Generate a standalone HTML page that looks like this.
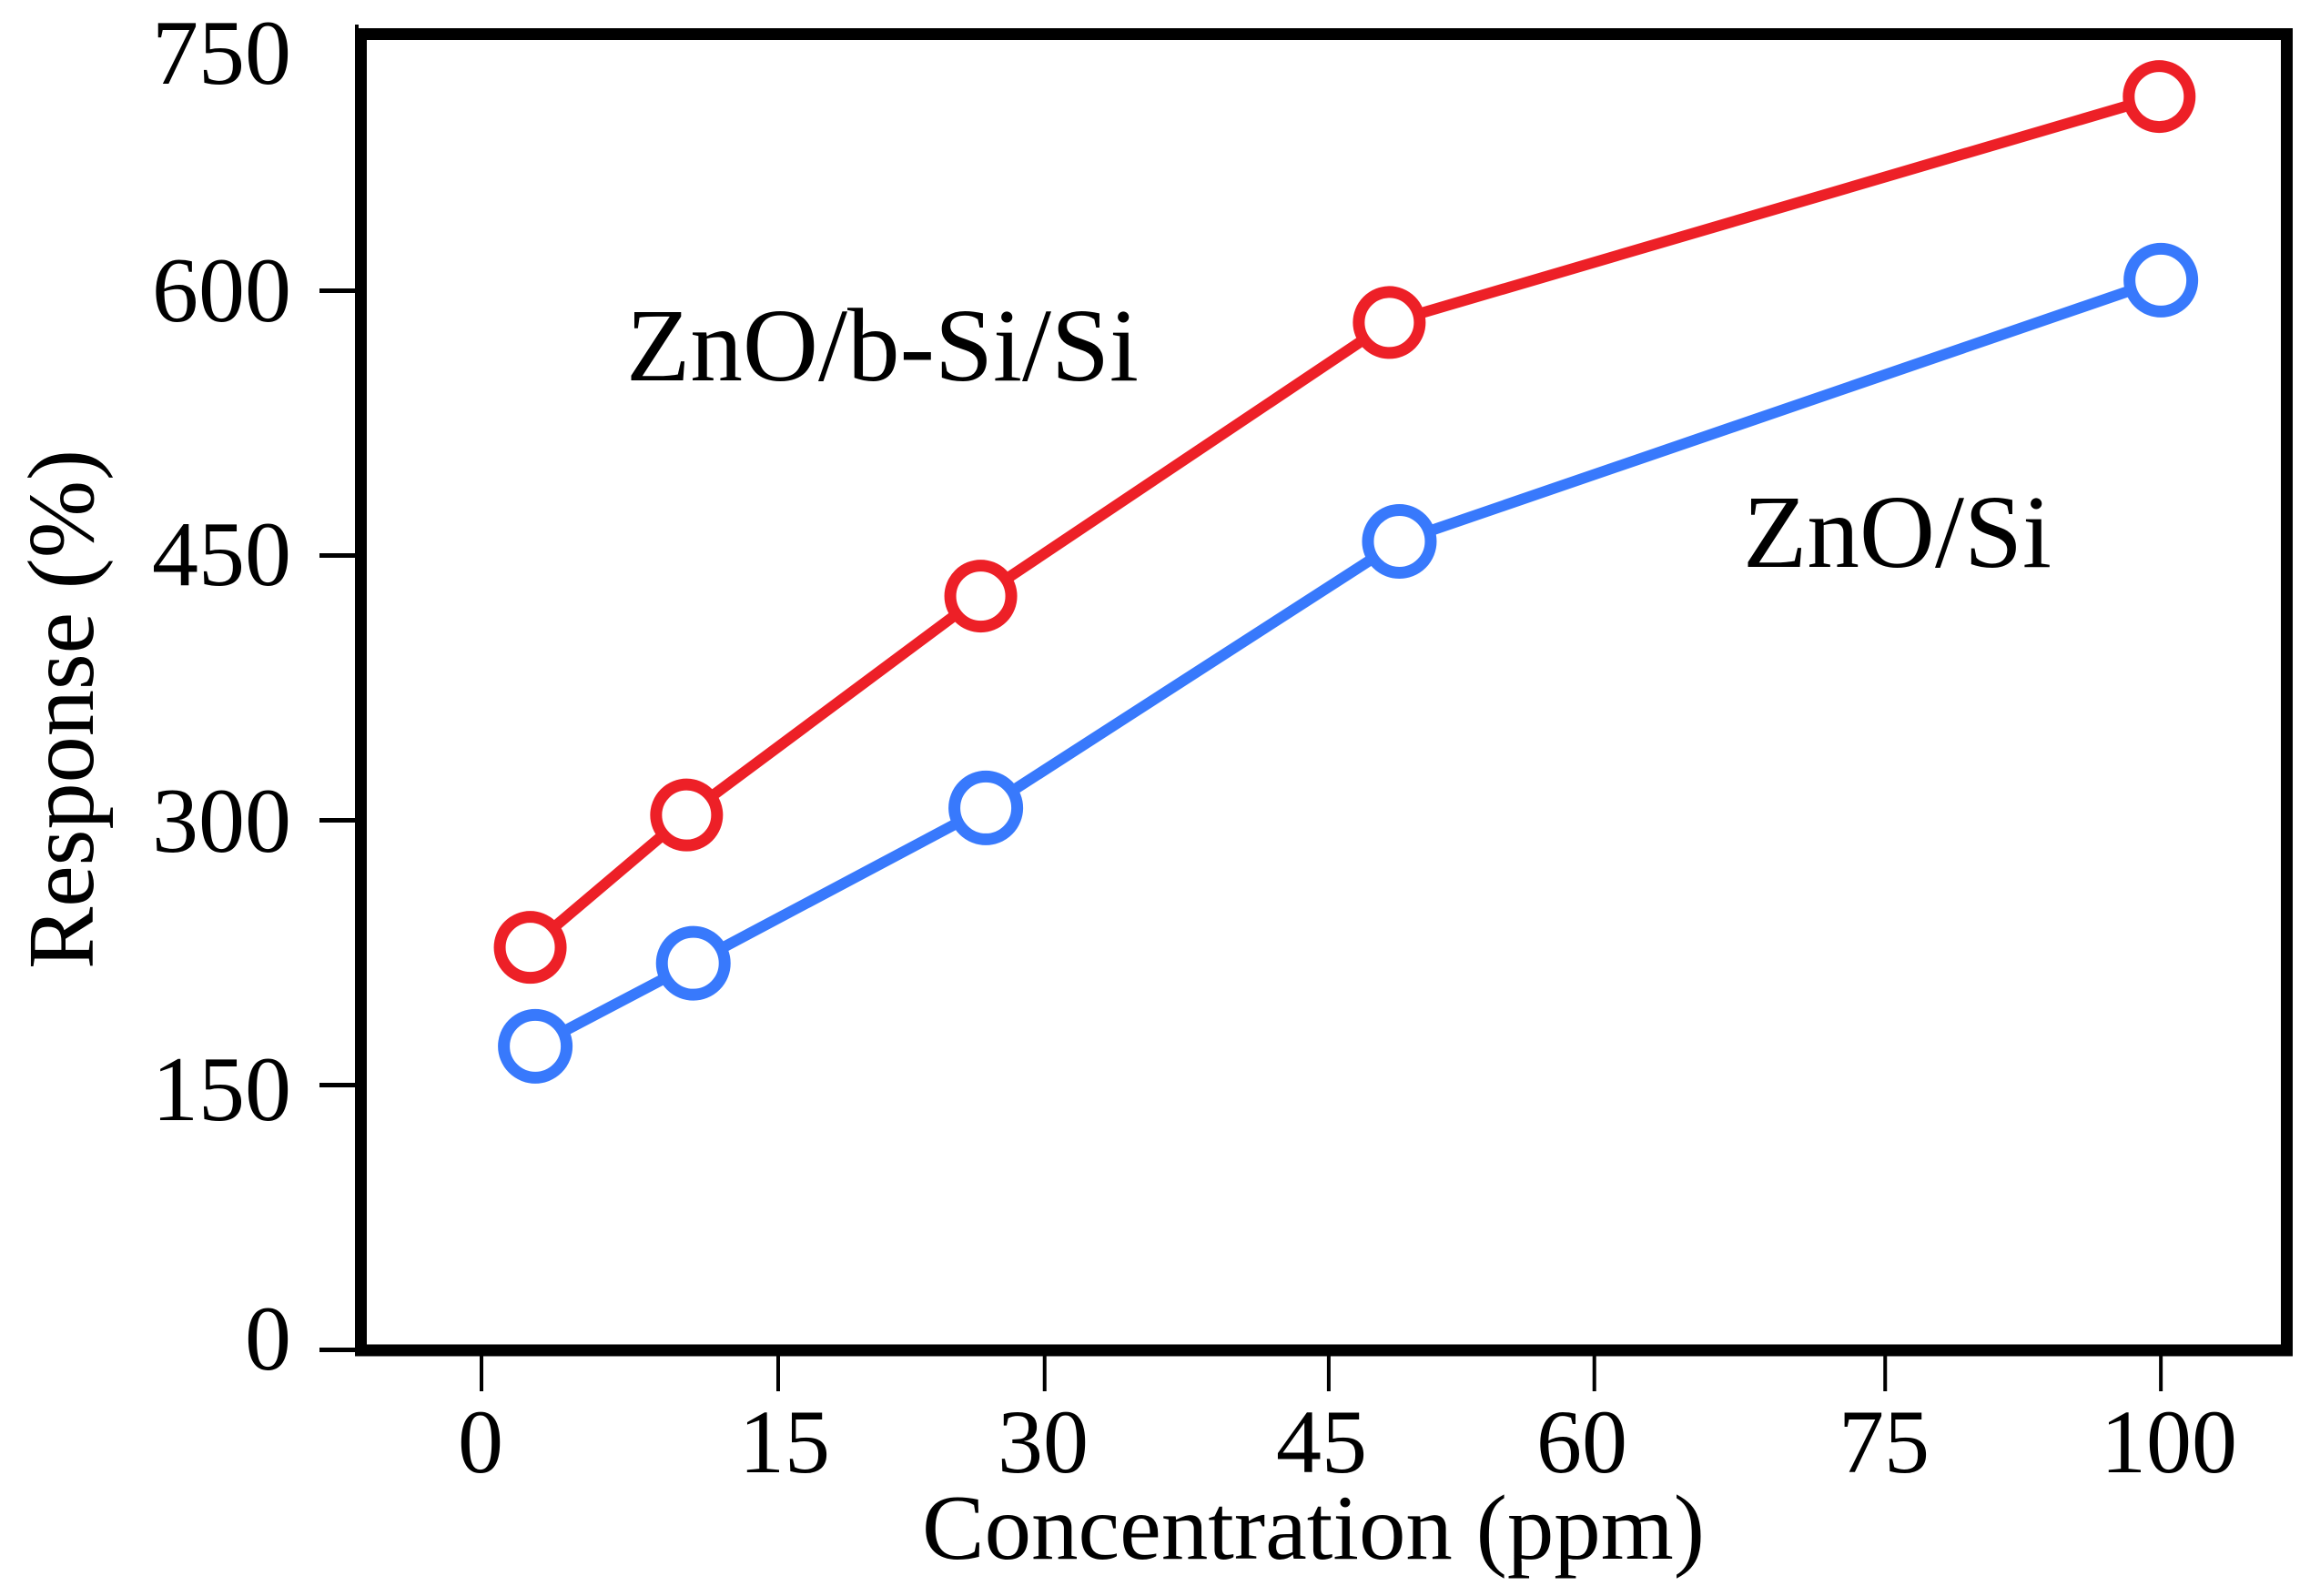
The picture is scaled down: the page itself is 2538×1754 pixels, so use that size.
<!DOCTYPE html>
<html lang="en">
<head>
<meta charset="utf-8">
<title>Response vs Concentration</title>
<style>
html,body{margin:0;padding:0;background:#fff;}
svg{display:block;}
text{font-family:"Liberation Serif",serif;fill:#000;}
.yl{font-size:102px;text-anchor:end;}
.xl{font-size:100px;text-anchor:middle;}
</style>
</head>
<body>
<svg id="chart" xmlns="http://www.w3.org/2000/svg" width="2538" height="1754" viewBox="0 0 2538 1754">
  <rect x="0" y="0" width="2538" height="1754" fill="#fff"/>
  <g id="ticks"></g>
  <g id="series"></g>
  <rect x="396.5" y="37.5" width="2116" height="1446.5" fill="none" stroke="#000" stroke-width="13"/>
  <rect x="390" y="27" width="4" height="6" fill="#000"/>

  <text class="yl" x="320" y="92">750</text>
  <text class="yl" x="320" y="353">600</text>
  <text class="yl" x="320" y="643">450</text>
  <text class="yl" x="320" y="936">300</text>
  <text class="yl" x="320" y="1231">150</text>
  <text class="yl" x="320" y="1505">0</text>

  <text class="xl" x="528" y="1618">0</text>
  <text class="xl" x="862" y="1618">15</text>
  <text class="xl" x="1146" y="1618">30</text>
  <text class="xl" x="1452" y="1618">45</text>
  <text class="xl" x="1738" y="1618">60</text>
  <text class="xl" x="2070" y="1618">75</text>
  <text class="xl" x="2383" y="1618">100</text>

  <text x="1013" y="1713" font-size="102" textLength="860" lengthAdjust="spacingAndGlyphs">Concentration (ppm)</text>
  <text transform="translate(102 1065) rotate(-90)" font-size="104" textLength="571" lengthAdjust="spacingAndGlyphs">Response (%)</text>
  <text x="688" y="418" font-size="114" textLength="563" lengthAdjust="spacingAndGlyphs">ZnO/b-Si/Si</text>
  <text x="1915" y="623" font-size="114" textLength="339" lengthAdjust="spacingAndGlyphs">ZnO/Si</text>
</svg>
<script>
// Axis ticks, in axis units (the printed x labels are unevenly placed on the original axis)
const yTicks = [0, 150, 300, 450, 600];
const xTicks = [0, 17.65, 33.5, 50.4, 66.2, 83.5, 99.9];

// Series values: x in axis units, y in response %
const redX = [2.9, 12.2, 29.7, 54.0, 99.8];
const redY = [228, 303, 427, 582, 710];
const blueX = [3.2, 12.6, 30.0, 54.6, 99.9];
const blueY = [172, 219, 307, 458, 606];

function xScale(v) { return 529 + v * 18.47; }
function yScale(v) { return 1483.5 - v * 1.94; }

const NS = 'http://www.w3.org/2000/svg';
const tickLayer = document.getElementById('ticks');
const seriesLayer = document.getElementById('series');

yTicks.forEach(function (v) {
  const t = document.createElementNS(NS, 'line');
  
  
  t.setAttribute('x1', 351);
  t.setAttribute('x2', 392);
  t.setAttribute('y1', yScale(v));
  t.setAttribute('y2', yScale(v));
  t.setAttribute('stroke', '#000');
  t.setAttribute('stroke-width', 5);
  tickLayer.appendChild(t);
});

xTicks.forEach(function (v) {
  const t = document.createElementNS(NS, 'line');
  
  
  t.setAttribute('x1', xScale(v));
  t.setAttribute('x2', xScale(v));
  t.setAttribute('y1', 1486);
  t.setAttribute('y2', 1529);
  t.setAttribute('stroke', '#000');
  t.setAttribute('stroke-width', 4);
  tickLayer.appendChild(t);
});

function drawSeries(xs, ys, color, radius) {
  const line = document.createElementNS(NS, 'polyline');
  
  
  line.setAttribute('points', xs.map(function (x, i) { return xScale(x) + ',' + yScale(ys[i]); }).join(' '));
  line.setAttribute('fill', 'none');
  line.setAttribute('stroke', color);
  line.setAttribute('stroke-width', 12);
  seriesLayer.appendChild(line);
  xs.forEach(function (x, i) {
    const c = document.createElementNS(NS, 'circle');
    
    
    c.setAttribute('cx', xScale(x));
    c.setAttribute('cy', yScale(ys[i]));
    c.setAttribute('r', radius);
    c.setAttribute('fill', '#fff');
    c.setAttribute('stroke', color);
    c.setAttribute('stroke-width', 13);
    seriesLayer.appendChild(c);
  });
}

drawSeries(redX, redY, '#ED2027', 33.5);
drawSeries(blueX, blueY, '#3879FC', 34.5);
</script>
</body>
</html>
